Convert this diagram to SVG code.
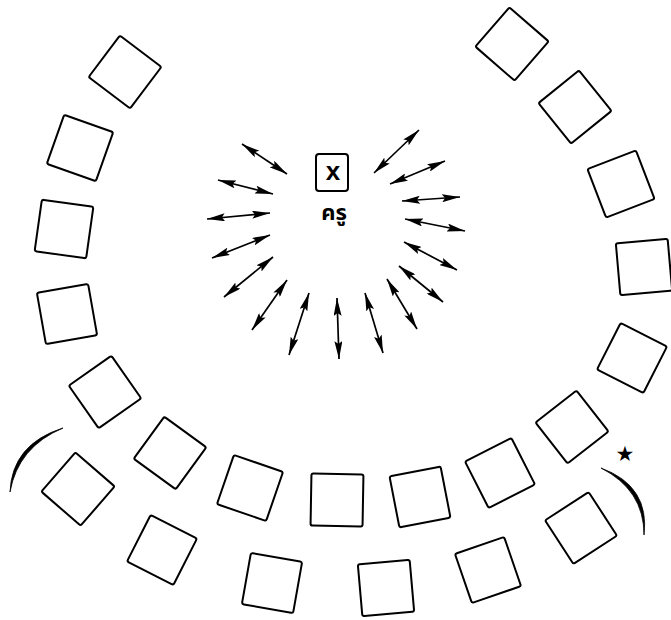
<svg xmlns="http://www.w3.org/2000/svg" width="671" height="620" viewBox="0 0 671 620">
<style>
.seat{fill:none;stroke:#000;stroke-width:2;stroke-linejoin:round}
.arr{stroke:#000;stroke-width:1.7;fill:none;marker-start:url(#ah);marker-end:url(#ah)}
.arc{fill:#000;stroke:#000;stroke-width:0.8}
.lbl{font-family:"Noto Sans Thai","Noto Sans","DejaVu Sans",sans-serif;font-weight:bold;fill:#000}
</style>
<defs>
<marker id="ah" viewBox="0 0 18 8" refX="18" refY="4" markerWidth="18" markerHeight="8" markerUnits="userSpaceOnUse" orient="auto-start-reverse">
<path d="M0,0 L18,4 L0,8 L3,4 Z" fill="#000"/>
</marker>
<rect id="sq" x="-26" y="-26" width="52" height="52" rx="2"/>
</defs>
<rect width="671" height="620" fill="#fff"/>

<g id="teacher">
<rect x="316" y="154" width="32" height="37" rx="3" class="seat"/>
<text x="333" y="180" text-anchor="middle" font-family="Liberation Sans,Arial,sans-serif" font-weight="bold" font-size="26">x</text>
<text x="334" y="220" text-anchor="middle" class="lbl" font-size="22">ครู</text>
</g>

<g id="seats">
<g id="s1"><use href="#sq" class="seat" transform="translate(125,72) rotate(37)"/></g>
<g id="s2"><use href="#sq" class="seat" transform="translate(80,148) rotate(19.5)"/></g>
<g id="s3"><use href="#sq" class="seat" transform="translate(64,229) rotate(8)"/></g>
<g id="s4"><use href="#sq" class="seat" transform="translate(67,314) rotate(-10)"/></g>
<g id="s5"><use href="#sq" class="seat" transform="translate(105,392) rotate(-35)"/></g>
<g id="s6"><use href="#sq" class="seat" transform="translate(170,453) rotate(36)"/></g>
<g id="s7"><use href="#sq" class="seat" transform="translate(78,489) rotate(41)"/></g>
<g id="s8"><use href="#sq" class="seat" transform="translate(250,488) rotate(19)"/></g>
<g id="s9"><use href="#sq" class="seat" transform="translate(162,550) rotate(27)"/></g>
<g id="s10"><use href="#sq" class="seat" transform="translate(272,583) rotate(10)"/></g>
<g id="s11"><use href="#sq" class="seat" transform="translate(337,500) rotate(1)"/></g>
<g id="s12"><use href="#sq" class="seat" transform="translate(420,497) rotate(-11)"/></g>
<g id="s13"><use href="#sq" class="seat" transform="translate(500,473) rotate(-27)"/></g>
<g id="s14"><use href="#sq" class="seat" transform="translate(572,427) rotate(-38)"/></g>
<g id="s15"><use href="#sq" class="seat" transform="translate(581,528) rotate(-33)"/></g>
<g id="s16"><use href="#sq" class="seat" transform="translate(488,570) rotate(-19)"/></g>
<g id="s17"><use href="#sq" class="seat" transform="translate(386,588) rotate(-5)"/></g>
<g id="s18"><use href="#sq" class="seat" transform="translate(512,44) rotate(41)"/></g>
<g id="s19"><use href="#sq" class="seat" transform="translate(575,107) rotate(-39)"/></g>
<g id="s20"><use href="#sq" class="seat" transform="translate(621,184) rotate(-21)"/></g>
<g id="s21"><use href="#sq" class="seat" transform="translate(644,267) rotate(-5)"/></g>
<g id="s22"><use href="#sq" class="seat" transform="translate(632,358) rotate(27)"/></g>
</g>

<g id="connectors">
<line class="arr" x1="242" y1="144" x2="287" y2="174"/>
<line class="arr" x1="218" y1="180" x2="273" y2="194"/>
<line class="arr" x1="207" y1="219" x2="270" y2="213"/>
<line class="arr" x1="212" y1="258" x2="270" y2="235"/>
<line class="arr" x1="224" y1="297" x2="273" y2="257"/>
<line class="arr" x1="252" y1="330" x2="287" y2="280"/>
<line class="arr" x1="289" y1="355" x2="309" y2="293"/>
<line class="arr" x1="339" y1="359" x2="337" y2="298"/>
<line class="arr" x1="383" y1="353" x2="365" y2="293"/>
<line class="arr" x1="417" y1="329" x2="387" y2="279"/>
<line class="arr" x1="443" y1="302" x2="399" y2="266"/>
<line class="arr" x1="457" y1="270" x2="404" y2="242"/>
<line class="arr" x1="465" y1="231" x2="405" y2="219"/>
<line class="arr" x1="460" y1="197" x2="402" y2="201"/>
<line class="arr" x1="445" y1="161" x2="390" y2="184"/>
<line class="arr" x1="419" y1="130" x2="374" y2="173"/>
</g>

<g id="brackets">
<path class="arc" d="M63,428 Q12,444 10,492 Q18,447 63,428 Z"/>
<path class="arc" d="M601,468 Q650,486 644,535 Q644,490 601,468 Z"/>
<text x="625" y="461" text-anchor="middle" font-family="DejaVu Sans,sans-serif" font-size="21">★</text>
</g>
</svg>
